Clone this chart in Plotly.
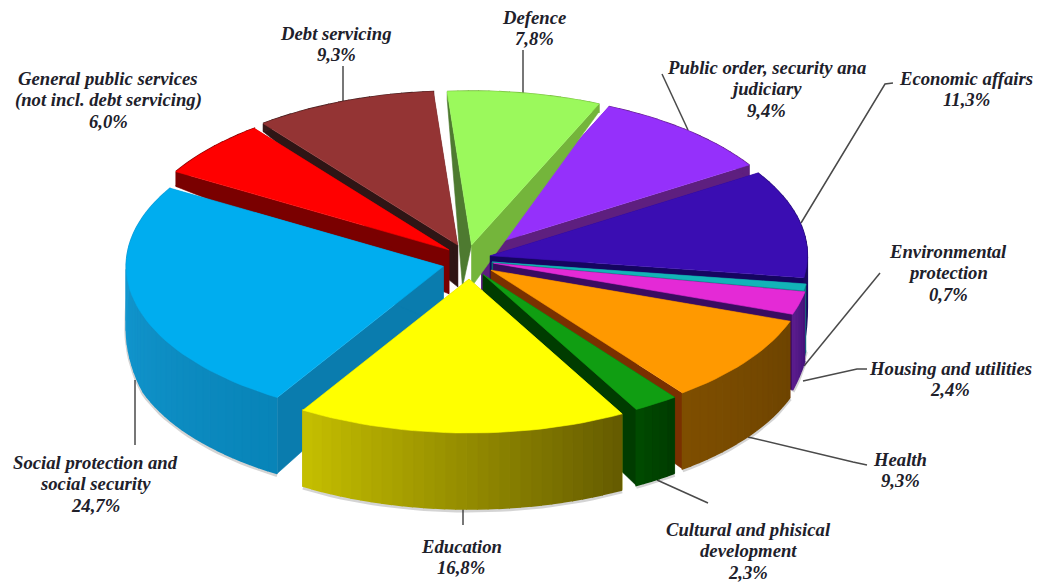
import numpy as np
import plotly.graph_objects as go

# Budget shares, clockwise from the slice at the top of the pie
categories = ["Defence", "Public order", "Economic affairs", "Environmental protection",
              "Housing and utilities", "Health", "Cultural and phisical development",
              "Education", "Social protection and social security",
              "General public services", "Debt servicing"]
values = [7.8, 9.4, 11.3, 0.7, 2.4, 9.3, 2.3, 16.8, 24.7, 6.0, 9.3]
label_lines = [["Defence"], ["Public order, security ana", "judiciary"], ["Economic affairs"],
               ["Environmental", "protection"], ["Housing and utilities"], ["Health"],
               ["Cultural and phisical", "development"], ["Education"],
               ["Social protection and", "social security"],
               ["General public services", "(not incl. debt servicing)"], ["Debt servicing"]]

# Slice styling
explode = [.085, .08, .072, .077, .08, .09, .105, .13, .09, .08, .09]
shift_x = [-1, -3, 0, 0, 1, 0, -3, 2, 3, 0, 0]
shift_y = [0, -1, 0, 2, 2, 4, 3, 1, 5, 0, 0]
apex_wall_dx = [-9, 0, 0, 0, 0, 0, 0, 0, 0, 0, 0]
top_col = ["#9BF95C", "#9530FB", "#3A0DB2", "#12B4B8", "#E42AD6", "#FF9900",
           "#109E12", "#FFFF00", "#00ADEF", "#FF0000", "#943434"]
rim_l = ["#74B53B", "#5E1F7F", "#2A0F80", "#0C7C80", "#5A1C8C", "#7E4E00",
         "#004A00", "#C4BE00", "#18A0DA", "#7A0000", "#3A1A1A"]
rim_r = ["#74B53B", "#5E1F7F", "#1C0A60", "#0C7C80", "#46147C", "#6E4400",
         "#003C00", "#665C00", "#0884B8", "#7A0000", "#3A1A1A"]
cut_a = ["#4E7A30", "#5E1F7F", "#150560", "#0C6C70", "#4A1070", "#7A3000",
         "#003C00", "#8A8600", "#0A7CAE", "#7A0000", "#2F1515"]
cut_b = ["#74B53B", "#5E1F7F", "#150560", "#0C6C70", "#3A0C60", "#7A3000",
         "#003C00", "#8A8600", "#0A7CAE", "#7A0000", "#2F1515"]
draw_order = [10, 1, 0, 2, 9, 3, 4, 8, 5, 6, 7]

START_DEG = -4.4
CX, CY, RX, RY = 468, 258, 317, 154
HEIGHT_Y = [100, 130, 173, 215, 250, 270, 315, 480]
HEIGHT_V = [8, 8, 15, 28, 44, 62, 76, 76]


def depth(y):
    return np.interp(y, HEIGHT_Y, HEIGHT_V)


def mix(c1, c2, f):
    a = [int(c1[i:i + 2], 16) for i in (1, 3, 5)]
    b = [int(c2[i:i + 2], 16) for i in (1, 3, 5)]
    return "#%02x%02x%02x" % tuple(round(p + (q - p) * f) for p, q in zip(a, b))


fig = go.Figure()


def polygon(xs, ys, color, edge=0.6):
    fig.add_trace(go.Scatter(x=list(xs), y=list(ys), mode="lines", fill="toself",
                             fillcolor=color, line=dict(color=color, width=edge),
                             hoverinfo="skip", showlegend=False))


def polyline(xs, ys, color, width):
    fig.add_trace(go.Scatter(x=list(xs), y=list(ys), mode="lines",
                             line=dict(color=color, width=width),
                             hoverinfo="skip", showlegend=False))


# Leader lines sit underneath the pie
leaders = [
    ([523, 523], [50, 94]),
    ([662, 688], [74, 130]),
    ([893, 885, 801], [83, 84, 223]),
    ([880, 804], [273, 366]),
    ([867, 857, 803], [369, 369, 381]),
    ([867, 853, 748], [465, 462, 437]),
    ([708, 657], [503, 480]),
    ([463, 463], [508, 525]),
    ([135, 135], [380, 445]),
    ([343, 343], [66, 102]),
]
for lx, ly in leaders:
    polyline(lx, ly, "#4a4a4a", 1.5)

# Angular extent of every slice, derived from the shares
edges = START_DEG + np.concatenate([[0], np.cumsum(values)]) * 3.6

for i in draw_order:
    a0, a1 = edges[i], edges[i + 1]
    mid = np.radians((a0 + a1) / 2)
    ax = CX + explode[i] * RX * np.sin(mid) + shift_x[i]
    ay = CY - explode[i] * RY * np.cos(mid) + shift_y[i]
    t = np.radians(np.linspace(a0, a1, max(4, int((a1 - a0) / 2) + 2)))
    rx = ax + RX * np.sin(t)
    ry = ay - RY * np.cos(t)
    bot = ry + depth(ry)
    apex_bot = ay + depth(ay)
    apex_bx = ax + apex_wall_dx[i]

    # Soft edge below the outer rim
    if np.cos(mid) < 0.2:
        polyline(rx, bot + 1.5, "rgba(60,60,60,0.22)", 4)

    # Two cut faces running back to the apex
    polygon([rx[0], rx[0], apex_bx, ax], [ry[0], bot[0], apex_bot, ay], cut_a[i])
    polygon([rx[-1], rx[-1], ax, ax], [ry[-1], bot[-1], apex_bot, ay], cut_b[i])

    # Outer rim as narrow strips so the shade can change along it
    left_to_right = rx[0] < rx[-1]
    for k in range(len(t) - 1):
        f = k / max(1, len(t) - 2)
        f = f if left_to_right else 1 - f
        polygon([rx[k], rx[k + 1], rx[k + 1], rx[k]],
                [ry[k], ry[k + 1], bot[k + 1], bot[k]], mix(rim_l[i], rim_r[i], f), edge=1.6)

    # Top face
    polygon(np.r_[ax, rx, ax], np.r_[ay, ry, ay], top_col[i])

# Label block centres and first-line heights
label_x = [534, 766, 966, 948, 950, 900, 748, 461, 95, 108, 336]
label_y = [17, 67, 78, 251, 368, 459, 529, 546, 462, 78, 33]
LINE_H = 21.7
for i, lines in enumerate(label_lines):
    pct = f"{values[i]:.1f}".replace(".", ",") + "%"
    for j, text in enumerate(lines + [pct]):
        fig.add_annotation(x=label_x[i], y=label_y[i] + j * LINE_H, text=f"<b><i>{text}</i></b>",
                           showarrow=False, xanchor="center", yanchor="middle",
                           font=dict(family="Liberation Serif", size=18.7, color="#20202a"))

fig.update_xaxes(range=[0, 1038], visible=False, fixedrange=True)
fig.update_yaxes(range=[583, 0], visible=False, fixedrange=True)
fig.update_layout(width=1038, height=583, margin=dict(l=0, r=0, t=0, b=0),
                  paper_bgcolor="white", plot_bgcolor="white", showlegend=False)
fig.write_html("out.html", config=dict(displayModeBar=False))
